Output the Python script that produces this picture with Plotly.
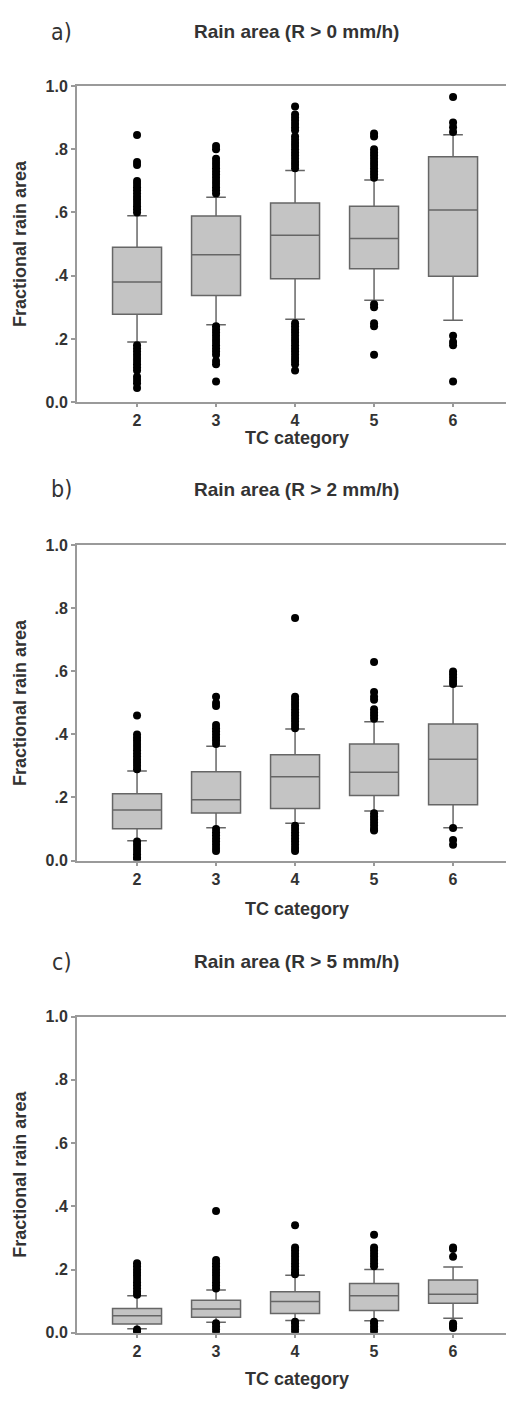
import plotly.graph_objects as go

W, H = 506, 1401

categories = [2, 3, 4, 5, 6]
panel_labels = ["a)", "b)", "c)"]
panel_titles = ["Rain area (R > 0 mm/h)", "Rain area (R > 2 mm/h)", "Rain area (R > 5 mm/h)"]
ytick_vals = [0.0, 0.2, 0.4, 0.6, 0.8, 1.0]
ytick_text = ["0.0", ".2", ".4", ".6", ".8", "1.0"]

# ---- Panel a: R > 0 mm/h
a_lower = [0.19, 0.245, 0.2625, 0.322, 0.259]
a_q1 = [0.278, 0.3375, 0.39, 0.422, 0.398]
a_median = [0.38, 0.466, 0.528, 0.518, 0.608]
a_q3 = [0.49, 0.589, 0.63, 0.62, 0.776]
a_upper = [0.59, 0.648, 0.733, 0.703, 0.846]
a_out = {
    2: [0.60, 0.61, 0.62, 0.63, 0.64, 0.65, 0.66, 0.67, 0.68, 0.69, 0.70, 0.75, 0.76, 0.845,
        0.18, 0.17, 0.16, 0.15, 0.14, 0.13, 0.12, 0.11, 0.10, 0.08, 0.07, 0.06, 0.045],
    3: [0.66, 0.67, 0.68, 0.69, 0.70, 0.71, 0.72, 0.73, 0.74, 0.75, 0.76, 0.77, 0.80, 0.81,
        0.24, 0.23, 0.22, 0.21, 0.20, 0.19, 0.18, 0.17, 0.16, 0.15, 0.13, 0.12, 0.065],
    4: [0.74, 0.75, 0.76, 0.77, 0.78, 0.79, 0.80, 0.81, 0.82, 0.83, 0.84, 0.86, 0.87, 0.88,
        0.89, 0.90, 0.91, 0.935,
        0.25, 0.24, 0.23, 0.22, 0.21, 0.20, 0.19, 0.18, 0.17, 0.16, 0.15, 0.14, 0.13, 0.12, 0.10],
    5: [0.71, 0.72, 0.73, 0.74, 0.75, 0.76, 0.77, 0.78, 0.79, 0.80, 0.84, 0.85,
        0.31, 0.30, 0.25, 0.24, 0.15],
    6: [0.855, 0.87, 0.885, 0.965, 0.21, 0.19, 0.18, 0.065],
}

# ---- Panel b: R > 2 mm/h
b_lower = [0.063, 0.104, 0.118, 0.157, 0.104]
b_q1 = [0.101, 0.151, 0.165, 0.206, 0.177]
b_median = [0.16, 0.193, 0.266, 0.28, 0.321]
b_q3 = [0.212, 0.282, 0.336, 0.37, 0.433]
b_upper = [0.284, 0.363, 0.4175, 0.44, 0.553]
b_out = {
    2: [0.29, 0.30, 0.31, 0.32, 0.33, 0.34, 0.35, 0.36, 0.37, 0.38, 0.39, 0.40, 0.46,
        0.06, 0.05, 0.04, 0.03, 0.02, 0.01, 0.005],
    3: [0.37, 0.38, 0.39, 0.40, 0.41, 0.42, 0.43, 0.49, 0.50, 0.52,
        0.10, 0.09, 0.08, 0.07, 0.06, 0.05, 0.04, 0.03],
    4: [0.42, 0.43, 0.44, 0.45, 0.46, 0.47, 0.48, 0.49, 0.50, 0.51, 0.52, 0.77,
        0.11, 0.10, 0.09, 0.08, 0.07, 0.06, 0.05, 0.04, 0.03],
    5: [0.45, 0.46, 0.47, 0.48, 0.51, 0.52, 0.535, 0.63,
        0.15, 0.14, 0.13, 0.12, 0.11, 0.10, 0.095],
    6: [0.56, 0.57, 0.58, 0.59, 0.60, 0.103, 0.065, 0.05],
}

# ---- Panel c: R > 5 mm/h
c_lower = [0.0125, 0.033, 0.0385, 0.0375, 0.046]
c_q1 = [0.028, 0.049, 0.061, 0.07, 0.093]
c_median = [0.054, 0.075, 0.099, 0.117, 0.122]
c_q3 = [0.077, 0.103, 0.13, 0.156, 0.167]
c_upper = [0.117, 0.135, 0.182, 0.20, 0.208]
c_out = {
    2: [0.12, 0.13, 0.14, 0.15, 0.16, 0.17, 0.18, 0.19, 0.20, 0.21, 0.22, 0.01, 0.005, 0.0],
    3: [0.14, 0.15, 0.16, 0.17, 0.18, 0.19, 0.20, 0.21, 0.22, 0.23, 0.385,
        0.03, 0.02, 0.01, 0.0],
    4: [0.185, 0.19, 0.20, 0.21, 0.22, 0.23, 0.24, 0.25, 0.26, 0.27, 0.34,
        0.035, 0.03, 0.02, 0.01, 0.0],
    5: [0.21, 0.22, 0.23, 0.24, 0.25, 0.26, 0.27, 0.31, 0.035, 0.03, 0.02, 0.01, 0.0],
    6: [0.24, 0.265, 0.27, 0.03, 0.025, 0.02, 0.015],
}

panels = [
    (a_lower, a_q1, a_median, a_q3, a_upper, a_out),
    (b_lower, b_q1, b_median, b_q3, b_upper, b_out),
    (c_lower, c_q1, c_median, c_q3, c_upper, c_out),
]

# ---- layout geometry (pixels)
plot_left = 77
plot_tops = [79, 544, 1021]
plot_bottoms = [399, 863, 1341]
label_y = [24, 487, 966]
title_y = [24, 487, 965]
xtitle_y = [435, 912, 1388]

AXIS = "#9a9a9a"
BOX_LINE = "#666666"
BOX_FILL = "#c4c4c4"
TXT = "#333333"
FONT = "Liberation Sans, Arial, sans-serif"

def py(p):
    return 1 - p / H

fig = go.Figure()
layout = dict(
    width=W, height=H, margin=dict(l=0, r=0, t=0, b=0),
    paper_bgcolor="white", plot_bgcolor="white", showlegend=False,
)
annotations = []

for i, (lo, q1, med, q3, up, outs) in enumerate(panels):
    n = "" if i == 0 else str(i + 1)
    xa, ya = "x" + n, "y" + n
    fig.add_trace(go.Box(
        x=categories, lowerfence=lo, q1=q1, median=med, q3=q3, upperfence=up,
        xaxis=xa, yaxis=ya, width=0.62, whiskerwidth=0.4,
        fillcolor=BOX_FILL, line=dict(color=BOX_LINE, width=1.5),
        boxpoints=False, hoverinfo="skip",
    ))
    ox, oy = [], []
    for c in categories:
        for v in outs[c]:
            ox.append(c)
            oy.append(v)
    fig.add_trace(go.Scatter(
        x=ox, y=oy, mode="markers", xaxis=xa, yaxis=ya,
        marker=dict(color="black", size=8, line=dict(width=0)),
        hoverinfo="skip",
    ))
    layout["xaxis" + n] = dict(
        domain=[plot_left / W, 1.0], anchor=ya, range=[1.24, 6.67],
        tickvals=categories, ticktext=[str(c) for c in categories],
        showline=True, linecolor=AXIS, linewidth=2, mirror=True,
        ticks="outside", ticklen=3, tickcolor=AXIS, tickwidth=1.5,
        showgrid=False, zeroline=False,
        tickfont=dict(family=FONT, size=16, color=TXT, weight="bold"),
    )
    layout["yaxis" + n] = dict(
        domain=[py(plot_bottoms[i]), py(plot_tops[i])], anchor=xa, range=[0, 1],
        tickvals=ytick_vals, ticktext=ytick_text,
        showline=True, linecolor=AXIS, linewidth=2,
        ticks="outside", ticklen=4, tickcolor=AXIS, tickwidth=1.5,
        showgrid=False, zeroline=False,
        tickfont=dict(family=FONT, size=16, color=TXT, weight="bold"),
    )
    annotations.append(dict(
        text=panel_labels[i], x=61 / W, y=py(label_y[i]), xref="paper", yref="paper",
        xanchor="center", yanchor="middle", showarrow=False,
        font=dict(family="Liberation Sans Narrow, DejaVu Sans Condensed, sans-serif", size=23, color=TXT),
    ))
    annotations.append(dict(
        text="<b>" + panel_titles[i] + "</b>", x=296 / W, y=py(title_y[i]),
        xref="paper", yref="paper", xanchor="center", yanchor="middle", showarrow=False,
        font=dict(family=FONT, size=19, color=TXT),
    ))
    annotations.append(dict(
        text="<b>TC category</b>", x=297 / W, y=py(xtitle_y[i]),
        xref="paper", yref="paper", xanchor="center", yanchor="middle", showarrow=False,
        font=dict(family=FONT, size=18, color=TXT),
    ))
    annotations.append(dict(
        text="<b>Fractional rain area</b>", x=20 / W,
        y=py((plot_tops[i] + plot_bottoms[i]) / 2),
        xref="paper", yref="paper", xanchor="center", yanchor="middle", showarrow=False,
        textangle=-90, font=dict(family=FONT, size=18, color=TXT),
    ))

layout["annotations"] = annotations
fig.update_layout(**layout)
fig.write_html("out.html")
